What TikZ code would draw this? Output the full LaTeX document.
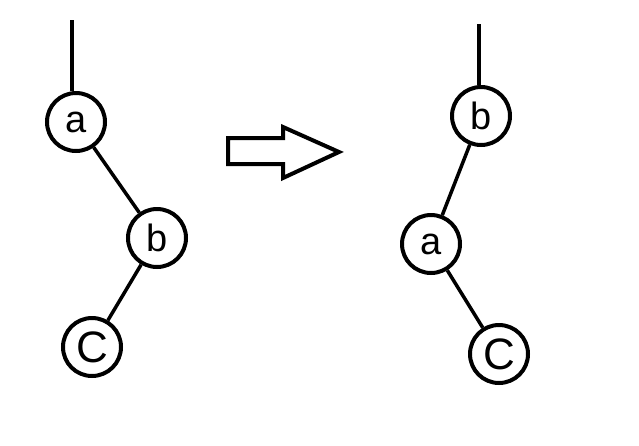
\documentclass[tikz,border=0pt]{standalone}
\usepackage{fontspec}
\setmainfont{Liberation Sans}
\begin{document}
\begin{tikzpicture}[x=1pt,y=-1pt,
  treenode/.style={circle,draw,line width=4pt,minimum size=58pt,inner sep=0pt,font=\fontsize{38}{40}\selectfont},
  edge/.style={line width=3.5pt}]
\useasboundingbox (0,0) rectangle (639,445);
% left tree
\coordinate (topL) at (72,20);
\node[treenode] (aL) at (76,122) {a};
\node[treenode] (bL) at (157,238) {b};
\node[treenode,font=\fontsize{44}{46}\selectfont] (cL) at (92,347) {C};
\draw[edge] (topL) -- (topL |- aL.north);
\draw[edge] (aL) -- (bL);
\draw[edge] (bL) -- (cL);
% arrow
\draw[line width=4pt,line join=miter] (228,138) -- (283,138) -- (283,127) -- (339,152) -- (283,178) -- (283,164) -- (228,164) -- cycle;
% right tree
\coordinate (topR) at (479,24);
\node[treenode] (bR) at (481,116) {b};
\node[treenode] (aR) at (431,244) {a};
\node[treenode,font=\fontsize{44}{46}\selectfont] (cR) at (499,354) {C};
\draw[edge] (topR) -- (topR |- bR.north);
\draw[edge] (bR) -- (aR);
\draw[edge] (aR) -- (cR);
\end{tikzpicture}
\end{document}
